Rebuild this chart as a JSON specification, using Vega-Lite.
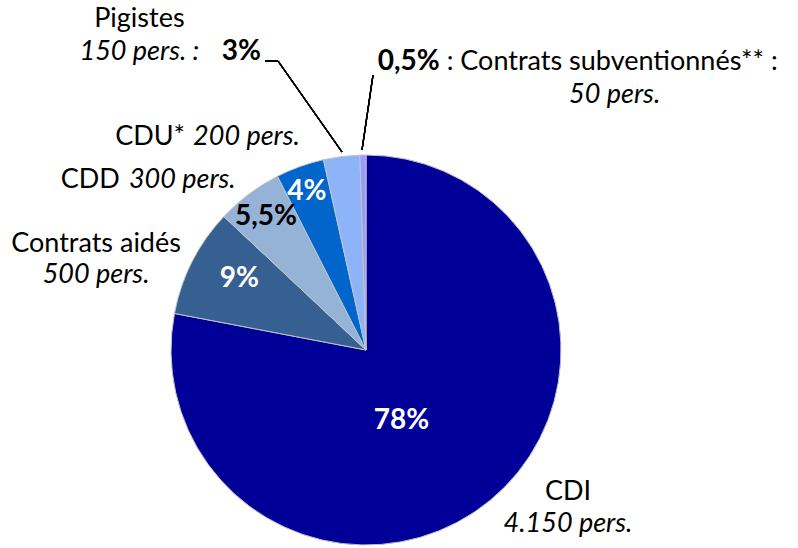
{
  "$schema": "https://vega.github.io/schema/vega-lite/v6.json",
  "autosize": "none",
  "width": 390,
  "height": 390,
  "padding": {"left": 171, "top": 155, "right": 237, "bottom": 3},
  "background": "white",
  "config": {"view": {"stroke": null}, "text": {"font": "Lato"}},
  "data": {"values": [
    {"cat": "CDI", "pct": 78, "pct_label": "78%", "pers": 4150, "pers_label": "4.150 pers.", "rank": 1},
    {"cat": "Contrats aidés", "pct": 9, "pct_label": "9%", "pers": 500, "pers_label": "500 pers.", "rank": 2},
    {"cat": "CDD", "pct": 5.5, "pct_label": "5,5%", "pers": 300, "pers_label": "300 pers.", "rank": 3},
    {"cat": "CDU*", "pct": 4, "pct_label": "4%", "pers": 200, "pers_label": "200 pers.", "rank": 4},
    {"cat": "Pigistes", "pct": 3, "pct_label": "3%", "pers": 150, "pers_label": "150 pers. :", "rank": 5},
    {"cat": "Contrats subventionnés**", "pct": 0.5, "pct_label": "0,5%", "pers": 50, "pers_label": "50 pers.", "rank": 6}
  ]},
  "layer": [
    {
      "encoding": {
        "theta": {"field": "pct", "type": "quantitative", "stack": true},
        "order": {"field": "rank", "type": "quantitative"}
      },
      "layer": [
        {
          "mark": {"type": "arc", "outerRadius": 195, "stroke": "#c4c4c4", "strokeWidth": 1},
          "encoding": {
            "color": {"field": "cat", "type": "nominal", "legend": null,
              "scale": {"domain": ["CDI", "Contrats aidés", "CDD", "CDU*", "Pigistes", "Contrats subventionnés**"],
                        "range": ["#000099", "#376092", "#95B3D7", "#0066CC", "#8DB3F8", "#9999FF"]}}
          }
        },
        {
          "mark": {"type": "text", "radius": 84, "dx": -18, "dy": 14, "align": "center", "baseline": "alphabetic", "fontSize": 28, "fontWeight": "bold", "fill": "white"},
          "encoding": {"detail": {"field": "cat"}, "text": {"condition": {"test": "datum.cat === 'CDI'", "field": "pct_label"}, "value": ""}}
        },
        {
          "mark": {"type": "text", "radius": 141, "dx": -1, "dy": 1, "align": "center", "baseline": "alphabetic", "fontSize": 28, "fontWeight": "bold", "fill": "white"},
          "encoding": {"detail": {"field": "cat"}, "text": {"condition": {"test": "datum.cat === 'Contrats aidés'", "field": "pct_label"}, "value": ""}}
        },
        {
          "mark": {"type": "text", "radius": 160, "dx": -4, "dy": 3, "align": "center", "baseline": "alphabetic", "fontSize": 28, "fontWeight": "bold", "fill": "black"},
          "encoding": {"detail": {"field": "cat"}, "text": {"condition": {"test": "datum.cat === 'CDD'", "field": "pct_label"}, "value": ""}}
        },
        {
          "mark": {"type": "text", "radius": 160, "dx": -5, "dy": 1, "align": "center", "baseline": "alphabetic", "fontSize": 28, "fontWeight": "bold", "fill": "white"},
          "encoding": {"detail": {"field": "cat"}, "text": {"condition": {"test": "datum.cat === 'CDU*'", "field": "pct_label"}, "value": ""}}
        },
        {
          "mark": {"type": "text", "radius": 300, "dx": -87, "dy": 8, "align": "center", "baseline": "alphabetic", "fontSize": 28, "fontWeight": "bold", "fill": "black"},
          "encoding": {"detail": {"field": "cat"}, "text": {"condition": {"test": "datum.cat === 'Pigistes'", "field": "pct_label"}, "value": ""}}
        },
        {
          "mark": {"type": "text", "radius": 277, "dx": 16, "dy": -3, "align": "left", "baseline": "alphabetic", "fontSize": 28, "fontWeight": "bold", "fill": "black"},
          "encoding": {"detail": {"field": "cat"}, "text": {"condition": {"test": "datum.cat === 'Contrats subventionnés**'", "field": "pct_label"}, "value": ""}}
        },
        {
          "mark": {"type": "text", "radius": 277, "dx": 85, "dy": -3, "align": "left", "baseline": "alphabetic", "fontSize": 27, "fill": "black"},
          "encoding": {"detail": {"field": "cat"}, "text": {"condition": {"test": "datum.cat === 'Contrats subventionnés**'", "value": ": Contrats subventionnés** :"}, "value": ""}}
        },
        {
          "mark": {"type": "text", "radius": 277, "dx": 253, "dy": 30, "align": "center", "baseline": "alphabetic", "fontSize": 27, "fontStyle": "italic", "fill": "black"},
          "encoding": {"detail": {"field": "cat"}, "text": {"condition": {"test": "datum.cat === 'Contrats subventionnés**'", "field": "pers_label"}, "value": ""}}
        },
        {
          "mark": {"type": "text", "radius": 300, "dx": -189, "dy": -25, "align": "center", "baseline": "alphabetic", "fontSize": 27, "fill": "black"},
          "encoding": {"detail": {"field": "cat"}, "text": {"condition": {"test": "datum.cat === 'Pigistes'", "field": "cat"}, "value": ""}}
        },
        {
          "mark": {"type": "text", "radius": 300, "dx": -189, "dy": 8, "align": "center", "baseline": "alphabetic", "fontSize": 27, "fontStyle": "italic", "fill": "black"},
          "encoding": {"detail": {"field": "cat"}, "text": {"condition": {"test": "datum.cat === 'Pigistes'", "field": "pers_label"}, "value": ""}}
        },
        {
          "mark": {"type": "text", "radius": 230, "dx": -103, "dy": 11, "align": "right", "baseline": "alphabetic", "fontSize": 27, "fill": "black"},
          "encoding": {"detail": {"field": "cat"}, "text": {"condition": {"test": "datum.cat === 'CDU*'", "field": "cat"}, "value": ""}}
        },
        {
          "mark": {"type": "text", "radius": 230, "dx": -95, "dy": 11, "align": "left", "baseline": "alphabetic", "fontSize": 27, "fontStyle": "italic", "fill": "black"},
          "encoding": {"detail": {"field": "cat"}, "text": {"condition": {"test": "datum.cat === 'CDU*'", "field": "pers_label"}, "value": ""}}
        },
        {
          "mark": {"type": "text", "radius": 230, "dx": -108, "dy": 22, "align": "right", "baseline": "alphabetic", "fontSize": 27, "fill": "black"},
          "encoding": {"detail": {"field": "cat"}, "text": {"condition": {"test": "datum.cat === 'CDD'", "field": "cat"}, "value": ""}}
        },
        {
          "mark": {"type": "text", "radius": 230, "dx": -99, "dy": 22, "align": "left", "baseline": "alphabetic", "fontSize": 27, "fontStyle": "italic", "fill": "black"},
          "encoding": {"detail": {"field": "cat"}, "text": {"condition": {"test": "datum.cat === 'CDD'", "field": "pers_label"}, "value": ""}}
        },
        {
          "mark": {"type": "text", "radius": 230, "dx": -65, "dy": 6, "align": "center", "baseline": "alphabetic", "fontSize": 27, "fill": "black"},
          "encoding": {"detail": {"field": "cat"}, "text": {"condition": {"test": "datum.cat === 'Contrats aidés'", "field": "cat"}, "value": ""}}
        },
        {
          "mark": {"type": "text", "radius": 230, "dx": -65, "dy": 37, "align": "center", "baseline": "alphabetic", "fontSize": 27, "fontStyle": "italic", "fill": "black"},
          "encoding": {"detail": {"field": "cat"}, "text": {"condition": {"test": "datum.cat === 'Contrats aidés'", "field": "pers_label"}, "value": ""}}
        },
        {
          "mark": {"type": "text", "radius": 240, "dx": 49, "dy": -35, "align": "center", "baseline": "alphabetic", "fontSize": 27, "fill": "black"},
          "encoding": {"detail": {"field": "cat"}, "text": {"condition": {"test": "datum.cat === 'CDI'", "field": "cat"}, "value": ""}}
        },
        {
          "mark": {"type": "text", "radius": 240, "dx": 49, "dy": -3, "align": "center", "baseline": "alphabetic", "fontSize": 27, "fontStyle": "italic", "fill": "black"},
          "encoding": {"detail": {"field": "cat"}, "text": {"condition": {"test": "datum.cat === 'CDI'", "field": "pers_label"}, "value": ""}}
        }
      ]
    },
    {
      "mark": {"type": "rule", "stroke": "black", "strokeWidth": 1.3},
      "encoding": {"x": {"value": 94}, "y": {"value": -94}, "x2": {"value": 107}, "y2": {"value": -94}}
    },
    {
      "mark": {"type": "rule", "stroke": "black", "strokeWidth": 1.3},
      "encoding": {"x": {"value": 107}, "y": {"value": -94}, "x2": {"value": 171}, "y2": {"value": -3}}
    },
    {
      "mark": {"type": "rule", "stroke": "black", "strokeWidth": 1.3},
      "encoding": {"x": {"value": 202}, "y": {"value": -80}, "x2": {"value": 191}, "y2": {"value": -5}}
    }
  ]
}
